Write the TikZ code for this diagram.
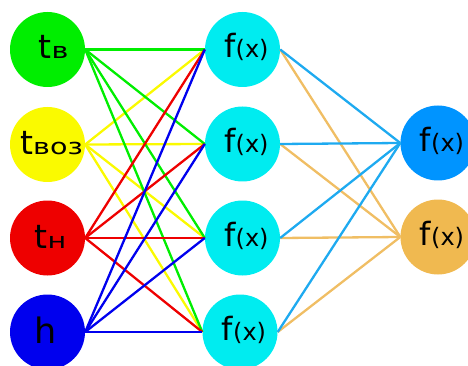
\documentclass[tikz,border=0pt]{standalone}
\usepackage{fontspec}
\setmainfont{DejaVu Sans}
\newfontfamily\widefont[FakeStretch=1.3]{DejaVu Sans}
\definecolor{cgreen}{RGB}{0,238,0}
\definecolor{cyellow}{RGB}{250,250,0}
\definecolor{cred}{RGB}{238,0,0}
\definecolor{cblue}{RGB}{0,0,238}
\definecolor{ccyan}{RGB}{0,236,240}
\definecolor{cdeep}{RGB}{0,148,255}
\definecolor{corange}{RGB}{240,185,80}
\definecolor{lblue}{RGB}{30,170,240}
\definecolor{lorange}{RGB}{240,190,100}
\newcommand{\bigt}{\fontsize{33}{33}\selectfont t}
\newcommand{\subtxt}[1]{{\widefont\fontsize{22}{22}\selectfont #1}}
\begin{document}
\begin{tikzpicture}[x=1pt,y=-1pt,
  neuron/.style={circle,draw=none,minimum size=75pt,inner sep=0pt},
  txt/.style={anchor=base,inner sep=0pt},
  conn/.style={line width=2.3pt}]
\useasboundingbox (0,0) rectangle (468,366);
\begin{scope}
\clip (0,0) rectangle (468,366);
% input layer
\node[neuron,fill=cgreen]  (L1) at (47.5,49.5) {};
\node[neuron,fill=cyellow] (L2) at (47.5,144.5) {};
\node[neuron,fill=cred]    (L3) at (47.5,238) {};
\node[neuron,fill=cblue]   (L4) at (47.5,332) {};
% hidden layer
\node[neuron,fill=ccyan] (M1) at (242.5,49.5) {};
\node[neuron,fill=ccyan] (M2) at (242.5,144) {};
\node[neuron,fill=ccyan] (M3) at (242.5,238) {};
\node[neuron,fill=ccyan] (M4) at (240,332) {};
% output layer
\node[neuron,fill=cdeep]   (R1) at (438,143) {};
\node[neuron,fill=corange] (R2) at (438,237) {};
% connections input -> hidden
\foreach \m in {M1,M2,M3,M4} \draw[conn,cyellow] (L2.east) -- (\m.west);
\foreach \m in {M1,M2,M3,M4} \draw[conn,cgreen] (L1.east) -- (\m.west);
\foreach \m in {M1,M2,M3,M4} \draw[conn,cred] (L3.east) -- (\m.west);
\foreach \m in {M1,M2,M3,M4} \draw[conn,cblue] (L4.east) -- (\m.west);
% connections hidden -> output
\foreach \m in {M1,M2,M3,M4} \draw[conn,lorange] (\m.east) -- (R2.west);
\foreach \m in {M1,M2,M3,M4} \draw[conn,lblue] (\m.east) -- (R1.west);
% texts
\node[txt] (T1) at ([xshift=6pt,yshift=-9.5pt]L1.center) {\bigt\subtxt{в}};
\node[txt] (T2) at ([xshift=4pt,yshift=-10.5pt]L2.center) {\bigt\subtxt{воз}};
\node[txt] (T3) at ([xshift=3pt,yshift=-10.5pt]L3.center) {\bigt\subtxt{н}};
\node[txt] (T4) at ([xshift=-1.5pt,yshift=-11pt]L4.center) {\fontsize{35}{35}\selectfont h};
\foreach \m in {M1,M2,M3,M4,R1,R2}
  \node[txt] at ([xshift=4pt,yshift=-8.5pt]\m.center) {\fontsize{32}{32}\selectfont f\fontsize{24}{24}\selectfont (x)};
\end{scope}
\end{tikzpicture}
\end{document}
